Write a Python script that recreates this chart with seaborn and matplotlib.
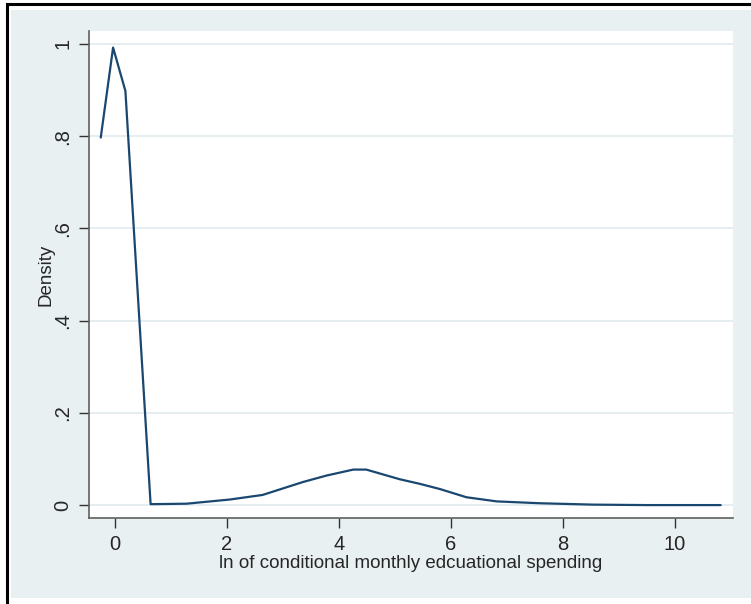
import numpy as np
import matplotlib.pyplot as plt
import seaborn as sns
from matplotlib.patches import Rectangle

# values
spend = [-0.25, -0.03, 0.19, 0.64, 1.28, 2.05, 2.64, 3.36, 3.78, 4.26, 4.49,
         5.09, 5.45, 5.80, 6.28, 6.82, 7.59, 8.54, 9.5, 10.82]
density = [0.797, 0.992, 0.898, 0.002, 0.003, 0.012, 0.022, 0.050, 0.064, 0.077, 0.077,
           0.056, 0.046, 0.035, 0.017, 0.008, 0.004, 0.001, 0.0, 0.0]
xticks = [0, 2, 4, 6, 8, 10]
yticks = [0, 0.2, 0.4, 0.6, 0.8, 1.0]
ytick_labels = ['0', '.2', '.4', '.6', '.8', '1']

sns.set_style('white')
plt.rcParams['font.family'] = ['Liberation Sans', 'DejaVu Sans']

fig = plt.figure(figsize=(7.51, 6.04), dpi=100)
W, H = 751, 604

# outer frame and stata-like background
fig.patches.append(Rectangle((7 / W, 1 - 610 / H), 760 / W, 606 / H, transform=fig.transFigure,
                             facecolor='white', edgecolor='black', linewidth=2.2, zorder=-10))
fig.patches.append(Rectangle((11 / W, 1 - 598 / H), 745 / W, 588 / H, transform=fig.transFigure,
                             facecolor='#e8f0f2', edgecolor='none', zorder=-9))

ax = fig.add_axes([89 / W, 1 - 518 / H, (733 - 89) / W, (518 - 31) / H])
ax.set_zorder(1)
ax.set_facecolor('white')

sns.lineplot(x=spend, y=density, ax=ax, color='#1a476f', linewidth=1.6)

ax.set_xlim(-0.46, 11.04)
ax.set_ylim(-0.028, 1.028)
ax.set_xticks(xticks)
ax.set_xticklabels([str(t) for t in xticks], fontsize=14.5)
ax.set_yticks(yticks)
ax.set_yticklabels(ytick_labels, fontsize=14.5, rotation=90, va='center')
ax.yaxis.grid(True, color='#e3ecef', linewidth=1.3)
ax.set_axisbelow(True)

for side in ['top', 'right']:
    ax.spines[side].set_visible(False)
for side in ['left', 'bottom']:
    ax.spines[side].set_color('#606060')
    ax.spines[side].set_linewidth(1.2)
ax.tick_params(bottom=True, left=True, direction='out', length=7, width=1,
               color='#333333', pad=5)

ax.set_xlabel('ln of conditional monthly edcuational spending', fontsize=13.5, labelpad=1)
ax.set_ylabel('Density', fontsize=13.5, labelpad=-1)

plt.savefig('out.png', dpi=100)
plt.close()
